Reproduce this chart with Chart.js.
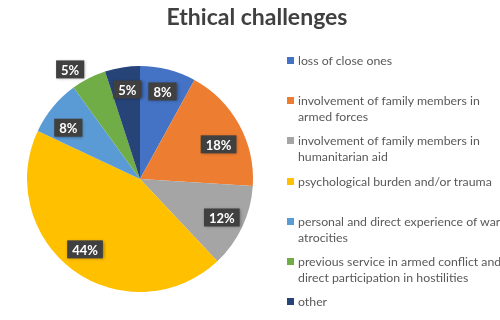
<!DOCTYPE html>
<html>
<head>
<meta charset="utf-8">
<script src="https://cdn.jsdelivr.net/npm/chart.js@4"></script>
<style>
  body { margin: 0; background: #fff; }
  #wrap { position: relative; width: 500px; height: 320px; }
  #title {
    position: absolute; left: 0; top: 2px; width: 500px; padding-left: 14px; box-sizing: border-box;
    text-align: center; font: bold 23px Lato, sans-serif; color: #404040;
  }
  #legend { position: absolute; left: 287px; top: 53px; font: 12.3px Lato, sans-serif; color: #595959; }
  .item { position: relative; height: 40.2px; line-height: 16px; padding-left: 11px; white-space: nowrap; }
  .box { position: absolute; left: 0; top: 4px; width: 7px; height: 7px; }
</style>
</head>
<body>
<div id="wrap">
  <canvas id="pieChart"></canvas>
  <div id="title">Ethical challenges</div>
  <div id="legend"></div>
</div>
<script>
const categories = [
    ['loss of close ones'],
    ['involvement of family members in', 'armed forces'],
    ['involvement of family members in', 'humanitarian aid'],
    ['psychological burden and/or trauma'],
    ['personal and direct experience of war', 'atrocities'],
    ['previous service in armed conflict and', 'direct participation in hostilities'],
    ['other']
];
const shares = [8, 18, 12, 44, 8, 5, 5];
const colors = ['#4472C4', '#ED7D31', '#A5A5A5', '#FFC000', '#5B9BD5', '#70AD47', '#264478'];

// dark boxed percentage labels like the Excel original
const sliceLabels = {
    id: 'sliceLabels',
    afterDatasetsDraw(chart, args, opts) {
        const ctx = chart.ctx;
        const ds = chart.data.datasets[0];
        const total = ds.data.reduce((a, b) => a + b, 0);
        chart.getDatasetMeta(0).data.forEach((arc, i) => {
            const p = arc.getProps(['x', 'y', 'startAngle', 'endAngle', 'outerRadius'], true);
            const mid = (p.startAngle + p.endAngle) / 2 + (opts.shift[i] || 0) * Math.PI / 180;
            const r = p.outerRadius * opts.dist[i];
            const lx = p.x + Math.cos(mid) * r;
            const ly = p.y + Math.sin(mid) * r;
            const text = Math.round(ds.data[i] / total * 100) + '%';
            ctx.save();
            ctx.font = 'bold 13px Lato, sans-serif';
            const w = ctx.measureText(text).width + 10;
            const h = 18;
            ctx.shadowColor = 'rgba(0,0,0,0.35)';
            ctx.shadowBlur = 3;
            ctx.shadowOffsetX = 1;
            ctx.shadowOffsetY = 1;
            ctx.fillStyle = '#404040';
            ctx.fillRect(lx - w / 2, ly - h / 2, w, h);
            ctx.shadowColor = 'transparent';
            ctx.fillStyle = '#ffffff';
            ctx.textAlign = 'center';
            ctx.textBaseline = 'middle';
            ctx.fillText(text, lx, ly + 1);
            ctx.restore();
        });
    }
};

const ctx = document.getElementById('pieChart').getContext('2d');
const pieChart = new Chart(ctx, {
    type: 'pie',
    data: {
        labels: categories,
        datasets: [{
            data: shares,
            backgroundColor: colors,
            borderWidth: 0
        }]
    },
    options: {
        responsive: true,
        maintainAspectRatio: false,
        animation: false,
        layout: { padding: { left: 27, right: 247, top: 66, bottom: 28 } },
        plugins: {
            legend: { display: false },
            tooltip: { enabled: false },
            sliceLabels: {
                dist: [0.80, 0.76, 0.80, 0.79, 0.78, 1.15, 0.80],
                shift: [0, 5, 0, 2, -4, -5.5, 1]
            }
        }
    },
    plugins: [sliceLabels]
});

// html legend, lines broken as in the original
const legend = document.getElementById('legend');
categories.forEach((lines, i) => {
    const item = document.createElement('div');
    item.className = 'item';
    const box = document.createElement('span');
    box.className = 'box';
    box.style.background = colors[i];
    item.appendChild(box);
    lines.forEach((line, j) => {
        if (j > 0) item.appendChild(document.createElement('br'));
        item.appendChild(document.createTextNode(line));
    });
    legend.appendChild(item);
});
</script>
</body>
</html>
